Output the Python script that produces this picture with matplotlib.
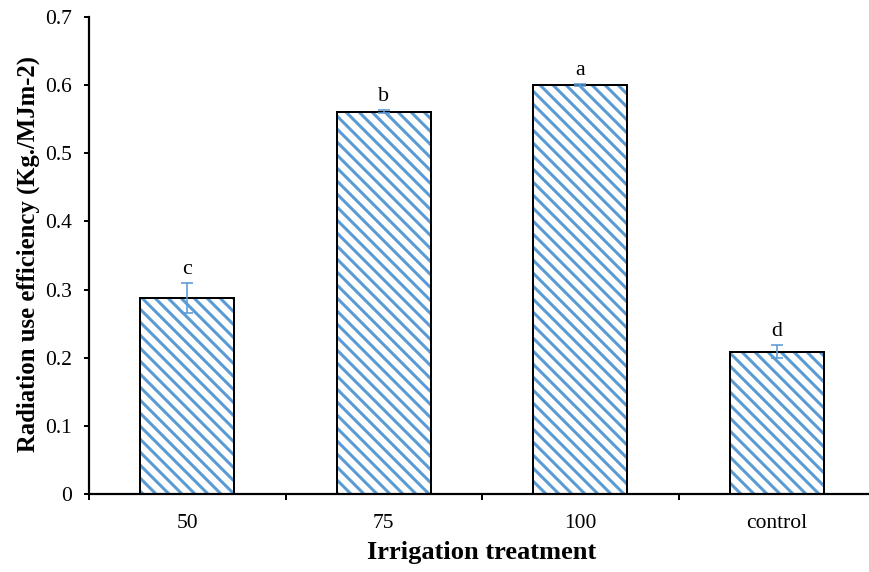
import numpy as np
import matplotlib
matplotlib.use("Agg")
import matplotlib.pyplot as plt

# Radiation use efficiency by irrigation treatment
categories = ["50", "75", "100", "control"]
rue = [0.288, 0.561, 0.600, 0.209]
rue_err = [0.022, 0.002, 0.001, 0.009]
groups = ["c", "b", "a", "d"]
yticks = [0, 0.1, 0.2, 0.3, 0.4, 0.5, 0.6, 0.7]
ytick_labels = ["0", "0.1", "0.2", "0.3", "0.4", "0.5", "0.6", "0.7"]

DPI = 78
W, H = 869, 572
blue = "#5B9BD5"

plt.rcParams["font.family"] = ["Liberation Serif", "DejaVu Serif"]
plt.rcParams["hatch.linewidth"] = 2.8
pt = 72.0 / DPI  # points per pixel

fig = plt.figure(figsize=(W / DPI, H / DPI), dpi=DPI)
ax = fig.add_axes([89 / W, (H - 494) / H, (875 - 89) / W, (494 - 17) / H])

x = np.arange(len(categories))
width = 0.48

# hatched fill, then black outline on top
ax.bar(x, rue, width, color="white", edgecolor=blue, hatch="\\\\", linewidth=0, zorder=2)
ax.bar(x, rue, width, fill=False, edgecolor="black", linewidth=2.0 * pt, zorder=3)
ax.errorbar(x, rue, yerr=rue_err, fmt="none", ecolor=blue, elinewidth=1.6 * pt,
            capsize=6 * pt, capthick=1.6 * pt, zorder=4)

for xi, v, e, g in zip(x, rue, rue_err, groups):
    ax.annotate(g, (xi, v + e), xytext=(0, 4 * pt), textcoords="offset points",
                ha="center", va="bottom", fontsize=22 * pt)

ax.set_xlim(-0.5, len(categories) - 0.5)
ax.set_ylim(0, 0.7)

ax.set_yticks(yticks)
ax.set_yticklabels(ytick_labels)
ax.set_xticks(x)
ax.set_xticklabels(categories)
ax.set_xticks(np.arange(len(categories) + 1) - 0.5, minor=True)

ax.tick_params(axis="y", direction="out", length=5 * pt, width=2 * pt,
               labelsize=21.5 * pt, pad=12 * pt, colors="black")
ax.tick_params(axis="x", which="major", length=0, labelsize=21.5 * pt, pad=20 * pt)
ax.tick_params(axis="x", which="minor", direction="out", length=6 * pt, width=2 * pt)

for s in ["top", "right"]:
    ax.spines[s].set_visible(False)
for s in ["left", "bottom"]:
    ax.spines[s].set_linewidth(2.2 * pt)
    ax.spines[s].set_color("black")

fig.text(482 / W, 1 - 553 / H, "Irrigation treatment", ha="center", va="center",
         fontsize=26.5 * pt, fontweight="bold")
fig.text(28 / W, 1 - 254 / H, "Radiation use efficiency (Kg./MJm-2)", ha="center",
         va="center", rotation=90, fontsize=24.7 * pt, fontweight="bold")

fig.savefig("out.png", dpi=DPI)
